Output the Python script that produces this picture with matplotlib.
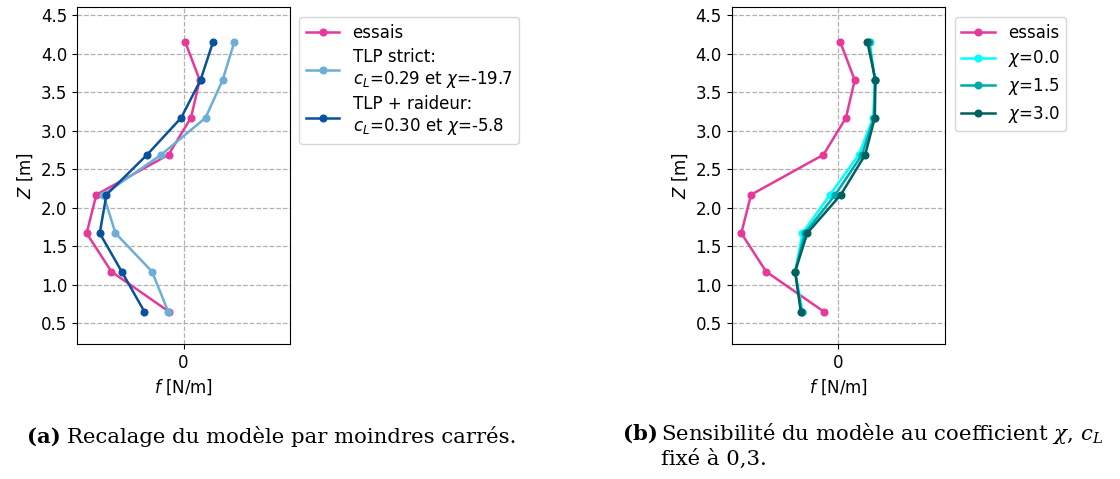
import matplotlib
matplotlib.use("Agg")
import matplotlib.pyplot as plt

# ---------- DATA ----------
z = [0.65, 1.17, 1.67, 2.17, 2.69, 3.17, 3.66, 4.15]

# effort lineique (unites arbitraires, normalisees)
essais = [-0.136, -0.677, -0.910, -0.819, -0.141, 0.070, 0.152, 0.018]
tlp_strict = [-0.144, -0.295, -0.639, -0.752, -0.210, 0.207, 0.367, 0.476]
tlp_raideur = [-0.367, -0.580, -0.787, -0.724, -0.342, -0.022, 0.160, 0.276]

chi_0 = [-0.337, -0.406, -0.337, -0.080, 0.190, 0.325, 0.340, 0.293]
chi_15 = [-0.346, -0.406, -0.315, -0.030, 0.220, 0.333, 0.343, 0.284]
chi_3 = [-0.353, -0.406, -0.293, 0.022, 0.250, 0.340, 0.346, 0.271]

labels_a = ["essais",
            "TLP strict:\n$c_L$=0.29 et $\\chi$=-19.7",
            "TLP + raideur:\n$c_L$=0.30 et $\\chi$=-5.8"]
labels_b = ["essais", "$\\chi$=0.0", "$\\chi$=1.5", "$\\chi$=3.0"]

pink = "#e7399a"
fs = 12

# ---------- FIGURE ----------
fig = plt.figure(figsize=(11.2, 4.79), dpi=100)
ax1 = fig.add_axes([0.0688, 0.2818, 0.1901, 0.7036])
ax2 = fig.add_axes([0.6533, 0.2818, 0.1907, 0.7036])


def style_axis(ax):
    ax.set_xlim(-1, 1)
    ax.set_ylim(0.23, 4.61)
    ax.set_xticks([0])
    ax.set_xticklabels(["0"])
    ax.set_yticks([0.5, 1.0, 1.5, 2.0, 2.5, 3.0, 3.5, 4.0, 4.5])
    ax.grid(True, linestyle="--", color="#b0b0b0", linewidth=0.9)
    ax.set_axisbelow(True)
    ax.set_xlabel("$f$ [N/m]", fontsize=fs)
    ax.set_ylabel("$Z$ [m]", fontsize=fs)
    ax.tick_params(labelsize=fs)


kw = dict(marker="o", markersize=4.8, linewidth=1.8)

# (a)
ax1.plot(essais, z, color=pink, label=labels_a[0], **kw)
ax1.plot(tlp_strict, z, color="#6baed6", label=labels_a[1], **kw)
ax1.plot(tlp_raideur, z, color="#08519c", label=labels_a[2], **kw)
style_axis(ax1)
ax1.legend(loc="upper left", bbox_to_anchor=(1.02, 0.985), fontsize=fs,
           handlelength=2.0, borderaxespad=0.3, labelspacing=0.35)

# (b)
ax2.plot(essais, z, color=pink, label=labels_b[0], **kw)
ax2.plot(chi_0, z, color="#00ffff", label=labels_b[1], **kw)
ax2.plot(chi_15, z, color="#00aaaa", label=labels_b[2], **kw)
ax2.plot(chi_3, z, color="#006060", label=labels_b[3], **kw)
style_axis(ax2)
ax2.legend(loc="upper left", bbox_to_anchor=(1.02, 0.985), fontsize=fs,
           handlelength=2.0, borderaxespad=0.3, labelspacing=0.4)

# ---------- CAPTIONS ----------
cap = dict(fontsize=15.3, family="DejaVu Serif", va="baseline",
           math_fontfamily="dejavuserif")
fig.text(27 / 1120, 1 - 443 / 479, "(a)", fontweight="bold", **cap)
fig.text(67 / 1120, 1 - 443 / 479, "Recalage du modèle par moindres carrés.", **cap)
fig.text(623 / 1120, 1 - 440 / 479, "(b)", fontweight="bold", **cap)
fig.text(661 / 1120, 1 - 440 / 479,
         r"Sensibilité du modèle au coefficient $\chi$, $c_L$", **cap)
fig.text(661 / 1120, 1 - 465 / 479, "fixé à 0,3.", **cap)

fig.savefig("out.png", dpi=100)
